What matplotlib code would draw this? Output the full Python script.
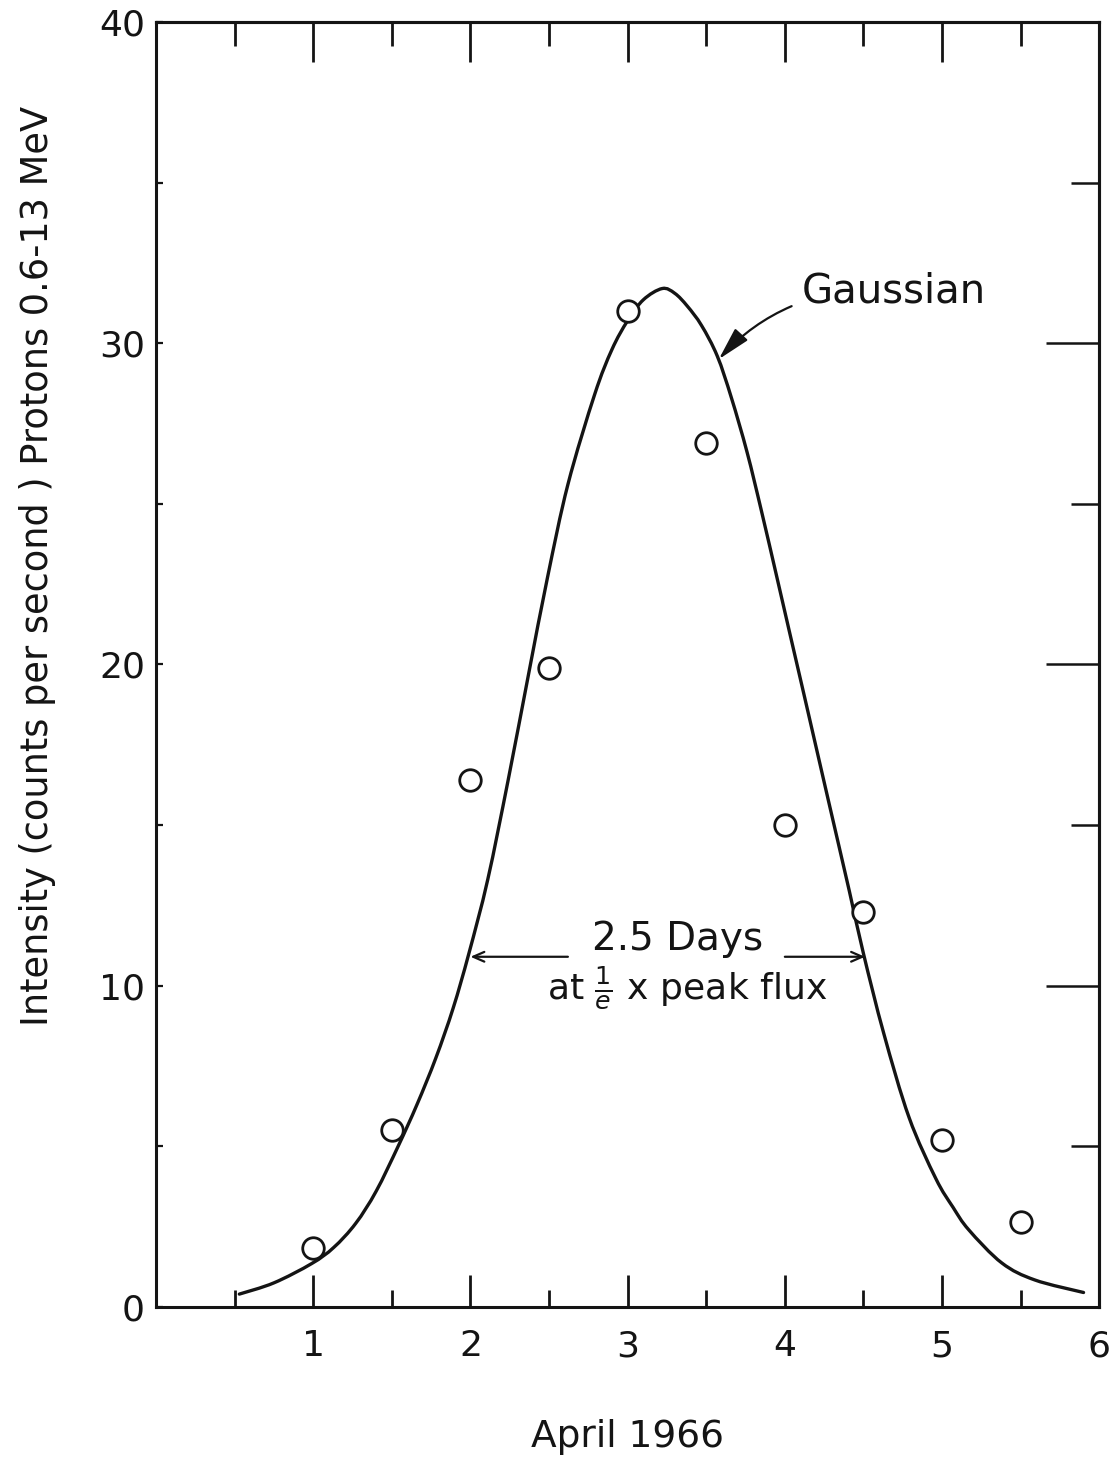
import matplotlib
matplotlib.use("Agg")
import matplotlib.pyplot as plt
from matplotlib.ticker import FixedLocator
from matplotlib.path import Path
from matplotlib.patches import PathPatch

# ---- data ----
days = [1.0, 1.5, 2.0, 2.5, 3.0, 3.5, 4.0, 4.5, 5.0, 5.5]
intensity = [1.85, 5.5, 16.4, 19.9, 31.0, 26.9, 15.0, 12.3, 5.2, 2.65]

curve_x = [0.53, 0.75, 0.99, 1.13, 1.27, 1.40, 1.54, 1.66, 1.78, 1.89, 1.99,
           2.11, 2.24, 2.37, 2.49, 2.62, 2.79, 2.90, 3.00, 3.10, 3.22, 3.30,
           3.38, 3.47, 3.57, 3.66, 3.76, 3.85, 3.95, 4.03, 4.12, 4.20, 4.28,
           4.41, 4.50, 4.63, 4.79, 4.96, 5.07, 5.17, 5.38, 5.59, 5.90]
curve_y = [0.40, 0.75, 1.35, 1.85, 2.60, 3.60, 5.00, 6.30, 7.75, 9.30, 11.0,
           13.3, 16.4, 19.7, 22.7, 25.6, 28.4, 29.8, 30.7, 31.35, 31.7, 31.55,
           31.15, 30.55, 29.6, 28.3, 26.6, 24.8, 22.7, 21.0, 19.1, 17.4, 15.7,
           12.95, 11.0, 8.50, 5.90, 4.00, 3.10, 2.40, 1.37, 0.84, 0.45]

x_ticklabels = ["1", "2", "3", "4", "5", "6"]
y_ticklabels = ["0", "10", "20", "30", "40"]

plt.rcParams['font.family'] = ['DejaVu Sans']
plt.rcParams['mathtext.fontset'] = 'dejavusans'

fig = plt.figure(figsize=(11.16, 14.58), dpi=100)
ax = fig.add_axes([0.1398, 0.1036, 0.985 - 0.1398, 0.985 - 0.1036])

ink = "#141414"

# smooth drawing of the read curve points (Catmull-Rom rendered as Bezier path)
verts = [(curve_x[0], curve_y[0])]
codes = [Path.MOVETO]
n = len(curve_x)
for i in range(n - 1):
    p0 = (curve_x[max(i - 1, 0)], curve_y[max(i - 1, 0)])
    p1 = (curve_x[i], curve_y[i])
    p2 = (curve_x[i + 1], curve_y[i + 1])
    p3 = (curve_x[min(i + 2, n - 1)], curve_y[min(i + 2, n - 1)])
    c1 = (p1[0] + (p2[0] - p0[0]) / 6.0, p1[1] + (p2[1] - p0[1]) / 6.0)
    c2 = (p2[0] - (p3[0] - p1[0]) / 6.0, p2[1] - (p3[1] - p1[1]) / 6.0)
    verts += [c1, c2, p2]
    codes += [Path.CURVE4, Path.CURVE4, Path.CURVE4]
ax.add_patch(PathPatch(Path(verts, codes), facecolor='none', edgecolor=ink,
                       lw=2.4, zorder=2, capstyle='round'))

ax.plot(days, intensity, linestyle='none', marker='o', markersize=15.5,
        markerfacecolor='white', markeredgecolor=ink, markeredgewidth=2.0,
        zorder=3)

ax.set_xlim(0, 6)
ax.set_ylim(0, 40)

for s in ax.spines.values():
    s.set_linewidth(2.2)
    s.set_color(ink)

# bottom axis ticks
ax.xaxis.set_major_locator(FixedLocator([1, 2, 3, 4, 5, 6]))
ax.set_xticklabels(x_ticklabels)
ax.xaxis.set_minor_locator(FixedLocator([0.5, 1.5, 2.5, 3.5, 4.5, 5.5]))
ax.tick_params(axis='x', which='major', direction='in', length=23, width=2.0,
               labelsize=26, pad=16, colors=ink, top=False)
ax.tick_params(axis='x', which='minor', direction='in', length=12, width=2.0,
               top=False, colors=ink)

# left axis ticks
ax.yaxis.set_major_locator(FixedLocator([0, 10, 20, 30, 40]))
ax.set_yticklabels(y_ticklabels)
ax.yaxis.set_minor_locator(FixedLocator([5, 15, 25, 35]))
ax.tick_params(axis='y', which='major', direction='in', length=5, width=1.6,
               labelsize=26, pad=8, colors=ink, right=False)
ax.tick_params(axis='y', which='minor', direction='in', length=5, width=1.6,
               right=False, colors=ink)

# top ticks
top = ax.secondary_xaxis('top')
top.xaxis.set_major_locator(FixedLocator([1, 2, 3, 4, 5]))
top.xaxis.set_minor_locator(FixedLocator([0.5, 1.5, 2.5, 3.5, 4.5, 5.5]))
top.tick_params(which='major', direction='in', length=29, width=2.0,
                labeltop=False, colors=ink)
top.tick_params(which='minor', direction='in', length=17, width=2.0, colors=ink)
top.spines['top'].set_linewidth(2.2)

# right ticks
right = ax.secondary_yaxis('right')
right.yaxis.set_major_locator(FixedLocator([10, 20, 30]))
right.yaxis.set_minor_locator(FixedLocator([5, 15, 25, 35]))
right.tick_params(which='major', direction='in', length=38, width=1.8,
                  labelright=False, colors=ink)
right.tick_params(which='minor', direction='in', length=20, width=1.8, colors=ink)
right.spines['right'].set_linewidth(2.2)

ax.set_xlabel("April 1966", fontsize=27, labelpad=40, color=ink)
ax.set_ylabel("Intensity (counts per second ) Protons 0.6-13 MeV", fontsize=26.5,
              color=ink)
ax.yaxis.set_label_coords(-0.106, 0.577)

# Gaussian label
ax.annotate("Gaussian", xy=(3.58, 29.5), xytext=(4.11, 31.6),
            fontsize=29, color=ink, va='center', ha='left',
            arrowprops=dict(arrowstyle='-|>,head_length=0.7,head_width=0.18',
                            color=ink, lw=1.6, shrinkA=6, shrinkB=0,
                            connectionstyle='arc3,rad=0.25'))

# width annotation
ax.text(3.32, 11.45, "2.5 Days", fontsize=28, ha='center', va='center', color=ink)
ax.text(3.38, 9.95, r"at $\frac{1}{e}$ x peak flux", fontsize=26, ha='center',
        va='center', color=ink)
ax.annotate("", xy=(2.0, 10.9), xytext=(2.62, 10.9),
            arrowprops=dict(arrowstyle='->,head_length=0.8,head_width=0.35',
                            color=ink, lw=1.6, shrinkA=0, shrinkB=0))
ax.annotate("", xy=(4.51, 10.9), xytext=(4.0, 10.9),
            arrowprops=dict(arrowstyle='->,head_length=0.8,head_width=0.35',
                            color=ink, lw=1.6, shrinkA=0, shrinkB=0))

fig.savefig("out.png", dpi=100, facecolor='white')
